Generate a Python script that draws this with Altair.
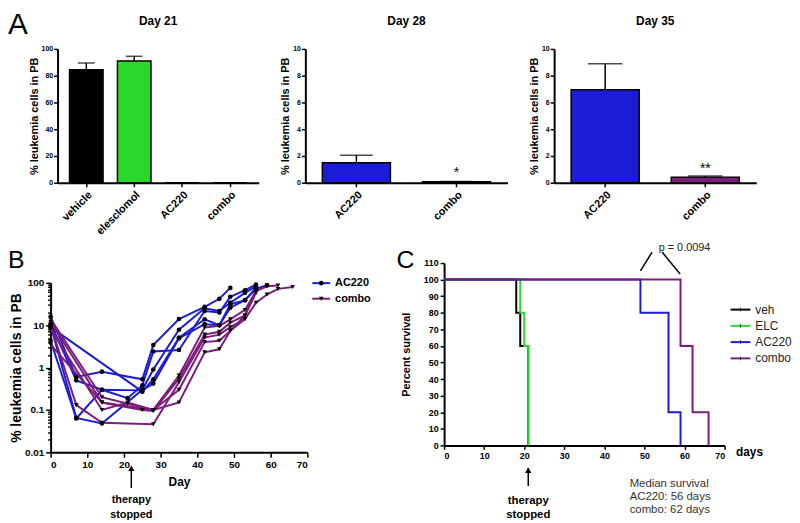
import altair as alt
import pandas as pd

FONT = "Liberation Sans"
BLUE = "#1c1cd6"
PURPLE = "#7d1c7d"
GREEN = "#2ad82a"
BLACK = "#000000"

# ---------------- Panel A data ----------------
a21_groups = ["vehicle", "elesclomol", "AC220", "combo"]
a21_means = [84.5, 91.0, 0.0, 0.0]
a21_upper = [89.5, 94.5, 0.0, 0.0]
a21_stars = ["", "", "", ""]
a21_star_y = [0, 0, 0, 0]

a28_groups = ["AC220", "combo"]
a28_means = [1.5, 0.08]
a28_upper = [2.05, 0.1]
a28_stars = ["", "*"]
a28_star_y = [0, 0.4]

a35_groups = ["AC220", "combo"]
a35_means = [6.95, 0.42]
a35_upper = [8.9, 0.5]
a35_stars = ["", "**"]
a35_star_y = [0, 0.73]

bar_color_names = ["vehicle", "elesclomol", "AC220", "combo"]
bar_color_values = [BLACK, GREEN, BLUE, PURPLE]

# ---------------- Panel B data (per mouse) ----------------
b_mice = ["A1", "A2", "A3", "A4", "A5", "C1", "C2", "C3", "C4", "C5"]
b_group = ["AC220"] * 5 + ["combo"] * 5
b_days = [
    [0, 7, 14, 25, 28, 35, 42, 46, 49],
    [0, 7, 14, 21, 25, 28, 35, 42, 46, 49, 53, 56],
    [0, 7, 14, 25, 28, 35, 42, 46, 49, 53, 56],
    [0, 25, 28, 35, 42, 46, 49, 53, 56],
    [0, 7, 14, 25, 28, 35, 42, 46, 49, 53, 56, 59],
    [0, 14, 21, 28, 35, 42, 46, 49, 53, 56, 59, 62],
    [0, 14, 25, 28, 35, 42, 46, 49, 53, 56],
    [0, 7, 14, 28, 35, 42, 46, 49, 53, 56, 59, 62, 66],
    [0, 14, 21, 28, 35, 42, 46, 49, 53],
    [0, 14, 28, 35, 42, 46, 49, 53, 56],
]
b_vals = [
    [16, 0.6, 0.8, 0.53, 3.4, 14, 27, 42, 76],
    [11, 0.5, 0.3, 0.19, 0.38, 2.4, 2.6, 21.6, 20, 47, 67, 91],
    [10, 0.065, 0.048, 0.3, 0.9, 7.8, 25, 21.6, 34, 58, 83],
    [9, 0.27, 0.53, 5.1, 13.8, 10, 31, 39, 76],
    [4.3, 0.063, 0.3, 0.29, 0.42, 4.9, 10.6, 10, 26, 39, 72, 88],
    [14, 0.2, 0.14, 0.1, 0.65, 8.8, 9.7, 13.8, 23, 64, 83, 87],
    [12, 0.15, 0.1, 0.095, 0.55, 6, 7, 11.5, 17, 58],
    [10, 0.13, 0.05, 0.046, 0.45, 5.1, 6, 9, 14, 34, 53, 72, 80],
    [8, 0.1, 0.15, 0.1, 0.3, 4, 4.3, 7.4, 14],
    [3.5, 0.15, 0.1, 0.15, 2.3, 2.7, 7.4, 17, 64],
]
b_legend = ["AC220", "combo"]
b_ticks = sorted(set([round(m * 10 ** e, 6) for e in range(-2, 2) for m in range(1, 10)] + [100]))
b_therapy_day = [22]
b_therapy_text = ["therapy", "stopped"]

# ---------------- Panel C data (Kaplan-Meier) ----------------
c_groups = ["veh", "ELC", "AC220", "combo"]
c_colors = [BLACK, "#33c433", BLUE, PURPLE]
c_days = {
    "veh": [0, 18, 19, 21],
    "ELC": [0, 19, 20, 21],
    "AC220": [0, 49, 56, 59],
    "combo": [0, 59, 62, 66],
}
c_surv = {
    "veh": [100, 80, 60, 0],
    "ELC": [100, 80, 60, 0],
    "AC220": [100, 80, 20, 0],
    "combo": [100, 60, 20, 0],
}
p_x = [49, 54.4]
p_x2 = [51.9, 58.9]
p_y = [105.2, 116.6]
p_y2 = [116.6, 103.4]
p_text = ["p = 0.0094"]
median_lines = ["Median survival", "AC220: 56 days", "combo: 62 days"]
median_y = [-23.3, -31.1, -38.9]
c_therapy_day = [21]


def spacer(w, h, extra=None):
    base = alt.Chart(pd.DataFrame({"s": [0]})).mark_point(opacity=0).encode(
        x=alt.X("s:Q", axis=None), y=alt.Y("s:Q", axis=None))
    if extra is not None:
        base = alt.layer(base, extra)
    return base.properties(width=w, height=h)


def letter(ch, size, x, y):
    return alt.Chart(pd.DataFrame({"t": [ch]})).mark_text(
        align="left", baseline="alphabetic", fontSize=size, font=FONT, color="black"
    ).encode(text="t:N", x=alt.value(x), y=alt.value(y))


def bar_panel(groups, means, upper, stars, star_y, ymax, ystep, width, title,
              p_in, p_out, cap):
    df = pd.DataFrame({"group": groups, "mean": means, "upper": upper,
                       "star": stars, "star_y": star_y})
    xax = alt.Axis(title=None, labelAngle=-45, labelFontSize=11, labelFontWeight="bold",
                   tickSize=4, labelPadding=2, domainWidth=2)
    yax = alt.Axis(title="% leukemia cells in PB", values=list(range(0, ymax + 1, ystep)),
                   labelFontSize=7, labelFontWeight="bold", tickSize=4, labelPadding=1,
                   titleFontSize=11, titlePadding=2, domainWidth=2, labelOverlap=False)
    xs = alt.Scale(paddingInner=p_in, paddingOuter=p_out)
    ys = alt.Scale(domain=[0, ymax], nice=False)
    X = alt.X("group:N", sort=groups, scale=xs, axis=xax)
    base = alt.Chart(df)
    bars = base.mark_bar(stroke="black", strokeWidth=1.5).encode(
        x=X,
        y=alt.Y("mean:Q", scale=ys, axis=yax),
        color=alt.Color("group:N", scale=alt.Scale(domain=bar_color_names, range=bar_color_values),
                        legend=None),
    )
    err = base.transform_filter("datum.upper > datum.mean").mark_rule(
        color="black", strokeWidth=1.5).encode(
        x=X, y=alt.Y("mean:Q", scale=ys, axis=yax), y2="upper:Q")
    caps = base.transform_filter("datum.upper > datum.mean").mark_tick(
        color="black", thickness=1.5, size=cap).encode(
        x=X, y=alt.Y("upper:Q", scale=ys, axis=yax))
    st = base.transform_filter("datum.star != ''").mark_text(
        fontSize=14, font=FONT, color="black", baseline="alphabetic").encode(
        x=X, y=alt.Y("star_y:Q", scale=ys, axis=yax), text="star:N")
    return alt.layer(bars, err, caps, st).properties(
        width=width, height=135,
        title=alt.TitleParams(title, fontSize=12, fontWeight="bold", font=FONT,
                              offset=17, anchor="middle"))


A1 = bar_panel(a21_groups, a21_means, a21_upper, a21_stars, a21_star_y, 100, 20, 203,
               "Day 21", 0.3, 0.25, 17)
A2 = bar_panel(a28_groups, a28_means, a28_upper, a28_stars, a28_star_y, 10, 2, 204,
               "Day 28", 0.32, 0.17, 33)
A3 = bar_panel(a35_groups, a35_means, a35_upper, a35_stars, a35_star_y, 10, 2, 204,
               "Day 35", 0.32, 0.17, 35)

# ---------------- Panel B ----------------
rows = []
for m, g, ds, vs in zip(b_mice, b_group, b_days, b_vals):
    for d, v in zip(ds, vs):
        rows.append({"mouse": m, "group": g, "day": d, "pct": v})
dfB = pd.DataFrame(rows)

major_test = "indexof([0.01,0.1,1,10,100], datum.value) >= 0"
bx_scale = alt.Scale(domain=[0, 70], nice=False)
bx_axis = alt.Axis(values=list(range(0, 71, 10)), title="Day", labelFontSize=10,
                   tickSize=5, labelPadding=2, titleFontSize=12, titleY=29,
                   titleBaseline="middle", domainWidth=2, labelOverlap=False)
bx = alt.X("day:Q", scale=bx_scale, axis=bx_axis)
by = alt.Y("pct:Q", scale=alt.Scale(type="log", domain=[0.01, 100], nice=False, range=[191, 20]),
           axis=alt.Axis(values=b_ticks, title="% leukemia cells in PB",
                         labelExpr=major_test + " ? format(datum.value, '~g') : ''",
                         tickSize={"condition": {"test": major_test, "value": 5}, "value": 3},
                         labelFontSize=10, labelPadding=2, titleFontSize=14, titlePadding=1,
                         domainWidth=2, labelOverlap=False))
bcolor = alt.Color("group:N", scale=alt.Scale(domain=b_legend, range=[BLUE, PURPLE]), legend=None)
bshape = alt.Shape("group:N", scale=alt.Scale(domain=b_legend, range=["circle", "triangle-down"]),
                   legend=None)

b_lines = alt.Chart(dfB).mark_line(strokeWidth=2).encode(
    x=bx, y=by, color=bcolor, detail="mouse:N", order="day:Q")
b_pts = alt.Chart(dfB).mark_point(filled=True, opacity=1, color="black", size=22).encode(
    x=bx, y=by, shape=bshape)

ann_b = pd.DataFrame({"day": b_therapy_day})
b_arrow = alt.Chart(ann_b).mark_rule(color="black", strokeWidth=1.5).encode(
    x=bx, y=alt.value(206), y2=alt.value(227))
b_head = alt.Chart(ann_b).mark_point(shape="triangle-up", filled=True, color="black",
                                     opacity=1, size=40).encode(x=bx, y=alt.value(207))
b_txt1 = alt.Chart(pd.DataFrame({"day": b_therapy_day, "t": b_therapy_text[:1]})).mark_text(
    fontSize=11, fontWeight="bold", font=FONT, color="black", baseline="middle").encode(
    x=bx, y=alt.value(239), text="t:N")
b_txt2 = alt.Chart(pd.DataFrame({"day": b_therapy_day, "t": b_therapy_text[1:]})).mark_text(
    fontSize=11, fontWeight="bold", font=FONT, color="black", baseline="middle").encode(
    x=bx, y=alt.value(254), text="t:N")

B = alt.layer(b_lines, b_pts, b_arrow, b_head, b_txt1, b_txt2, letter("B", 25, -43, 5)).properties(
    width=259, height=191)

legB_df = pd.DataFrame({"group": b_legend, "row": [0, 1]})
ly = alt.Y("row:Q", scale=alt.Scale(domain=[-1.293, 10.873], reverse=True), axis=None)
legB = alt.layer(
    alt.Chart(legB_df).mark_rule(strokeWidth=2).encode(
        x=alt.value(2), x2=alt.value(20), y=ly, color=bcolor),
    alt.Chart(legB_df).mark_point(filled=True, opacity=1, color="black", size=22).encode(
        x=alt.value(11), y=ly, shape=bshape),
    alt.Chart(legB_df).mark_text(align="left", baseline="middle", fontSize=11, fontWeight="bold",
                                 font=FONT, color="black").encode(
        x=alt.value(25), y=ly, text="group:N"),
).properties(width=60, height=191)

# ---------------- Panel C ----------------
cx = alt.X("day:Q", scale=alt.Scale(domain=[0, 70], nice=False),
           axis=alt.Axis(values=list(range(0, 71, 10)), title="days", labelFontSize=9,
                         tickSize=4, labelPadding=2, titleFontSize=12, titleX=294, titleY=6,
                         titleAlign="left", titleBaseline="middle", titleAngle=0, domainWidth=2,
                         labelOverlap=False))
cy = alt.Y("surv:Q", scale=alt.Scale(domain=[0, 110], nice=False),
           axis=alt.Axis(values=list(range(0, 111, 10)), title="Percent survival",
                         labelFontSize=9, tickSize=4, labelPadding=2, titleFontSize=11,
                         titlePadding=12, domainWidth=2, labelOverlap=False))
ccolor = alt.Color("group:N", scale=alt.Scale(domain=c_groups, range=c_colors), legend=None)

c_layers = []
for g in c_groups:
    dfg = pd.DataFrame({"group": g, "day": c_days[g], "surv": c_surv[g]})
    c_layers.append(alt.Chart(dfg).mark_line(strokeWidth=2, interpolate="step-after").encode(
        x=cx, y=cy, color=ccolor, order="day:Q"))

p_df = pd.DataFrame({"day": p_x, "day2": p_x2, "surv": p_y, "surv2": p_y2})
c_p_lines = alt.Chart(p_df).mark_rule(color="black", strokeWidth=1.5).encode(
    x=cx, x2="day2:Q", y=cy, y2="surv2:Q")
c_p_txt = alt.Chart(pd.DataFrame({"day": [60], "surv": [119], "t": p_text})).mark_text(
    fontSize=11, font=FONT, color="#222222", baseline="middle").encode(
    x=cx, y=cy, text="t:N")
c_med = alt.Chart(pd.DataFrame({"day": [46.3] * 3, "surv": median_y, "t": median_lines})).mark_text(
    fontSize=11.5, font=FONT, color="#333333", align="left", baseline="middle").encode(
    x=cx, y=cy, text="t:N")
c_arrow = alt.Chart(pd.DataFrame({"day": c_therapy_day, "surv": [-13.6], "surv2": [-24.5]})).mark_rule(
    color="black", strokeWidth=1.5).encode(x=cx, y=cy, y2="surv2:Q")
c_head = alt.Chart(pd.DataFrame({"day": c_therapy_day, "surv": [-15.0]})).mark_point(
    shape="triangle-up", filled=True, color="black", opacity=1, size=40).encode(
    x=cx, y=cy)
c_ther = alt.Chart(pd.DataFrame({"day": c_therapy_day * 2, "surv": [-33.5, -41.8],
                                 "t": ["therapy", "stopped"]})).mark_text(
    fontSize=11.5, fontWeight="bold", font=FONT, color="black", baseline="middle").encode(
    x=cx, y=cy, text="t:N")

C = alt.layer(*c_layers, c_p_lines, c_p_txt, c_med, c_arrow, c_head, c_ther,
              letter("C", 25, -48, 5)).properties(width=283, height=184)

legC_df = pd.DataFrame({"group": c_groups, "row": [0, 1, 2, 3]})
lcy = alt.Y("row:Q", scale=alt.Scale(domain=[-2.866, 8.354], reverse=True), axis=None)
legC = alt.layer(
    alt.Chart(legC_df).mark_rule(strokeWidth=2).encode(
        x=alt.value(2), x2=alt.value(22), y=lcy, color=ccolor),
    alt.Chart(legC_df).mark_tick(color="black", thickness=1, size=4, orient="vertical").encode(
        x=alt.value(12), y=lcy),
    alt.Chart(legC_df).mark_text(align="left", baseline="middle", fontSize=12, font=FONT,
                                 color="#222222").encode(
        x=alt.value(27), y=lcy, text="group:N"),
).properties(width=62, height=184)

# ---------------- Layout ----------------
row1 = alt.hconcat(spacer(7, 135, letter("A", 30, -43, -15)), A1, spacer(47, 135), A2,
                   spacer(47, 135), A3, spacing=0, bounds="flush")
row2 = alt.hconcat(B, spacer(3, 1), legB, spacer(75, 1), C, spacer(4, 1), legC,
                   spacing=0, bounds="flush")

chart = alt.vconcat(row1, row2, spacing=5, bounds="full").properties(
    padding=0
).configure_view(stroke=None).configure_axis(
    grid=False, domainColor="black", tickColor="black", tickWidth=1.5,
    labelColor="black", titleColor="black", labelFont=FONT, titleFont=FONT,
    labelFontWeight="bold", titleFontWeight="bold", labelOverlap=False
).configure_text(font=FONT).configure_title(font=FONT)

chart.save("out.html", embed_options={"renderer": "svg", "actions": False})
